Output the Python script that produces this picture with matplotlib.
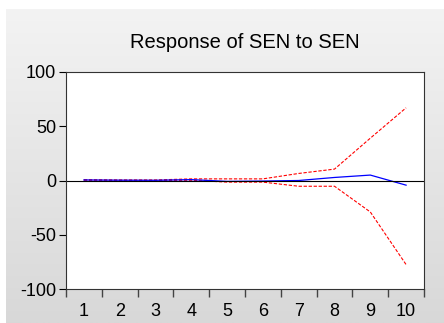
import numpy as np
import matplotlib
matplotlib.use("Agg")
import matplotlib.pyplot as plt

plt.rcParams['font.family'] = ['Liberation Sans', 'DejaVu Sans']

# Impulse response of SEN to SEN with +/- 2 S.E. bands
periods = [1, 2, 3, 4, 5, 6, 7, 8, 9, 10]
response = [0.5, 0.3, 0.2, 0.8, -0.8, -0.5, 0.0, 2.8, 5.0, -4.3]
upper = [0.8, 0.5, 0.5, 1.5, 1.5, 1.5, 6.5, 10.5, 39.0, 67.0]
lower = [0.2, 0.1, 0.0, 0.2, -1.5, -1.5, -5.3, -5.3, -29.0, -77.5]
yticks = [-100, -50, 0, 50, 100]

fig = plt.figure(figsize=(4.44, 3.23), dpi=100)
fig.patch.set_facecolor('white')

# gray gradient panel behind the chart
bg = fig.add_axes([6 / 444, 0, 438 / 444, 314 / 323])
bg.set_axis_off()
grad = np.linspace(0, 1, 256).reshape(-1, 1)
bg.imshow(grad, aspect='auto', cmap=plt.matplotlib.colors.LinearSegmentedColormap.from_list(
    'g', ['#f3f3f3', '#d8d8d8']), extent=[0, 1, 0, 1], origin='upper')

ax = fig.add_axes([66 / 444, (323 - 289) / 323, 358 / 444, 217 / 323])
ax.set_facecolor('white')
ax.plot(periods, upper, color='red', linestyle='--', linewidth=0.8, dashes=(3, 1.5))
ax.plot(periods, lower, color='red', linestyle='--', linewidth=0.8, dashes=(3, 1.5))
ax.plot(periods, response, color='blue', linewidth=0.9)
ax.axhline(0, color='black', linewidth=0.8)

ax.set_xlim(0.5, 10.5)
ax.set_ylim(-100, 100)
ax.set_yticks(yticks)
ax.set_yticklabels([str(v) for v in yticks])
ax.set_xticks(np.arange(0.5, 11, 1))
ax.set_xticklabels([])
ax.set_xticks(periods, minor=True)
ax.set_xticklabels([str(p) for p in periods], minor=True)
ax.tick_params(axis='x', which='major', direction='out', length=6, width=1, color='#444444')
ax.tick_params(axis='x', which='minor', length=0, pad=10, labelsize=13)
ax.tick_params(axis='y', direction='out', length=5, width=0.8, labelsize=13, pad=2)
for s in ax.spines.values():
    s.set_color('#333333')
    s.set_linewidth(0.8)

fig.text((66 + 424) / 2 / 444, 1 - 43 / 323, 'Response of SEN to SEN',
         ha='center', va='center', fontsize=14.5)

fig.savefig('out.png', dpi=100)
